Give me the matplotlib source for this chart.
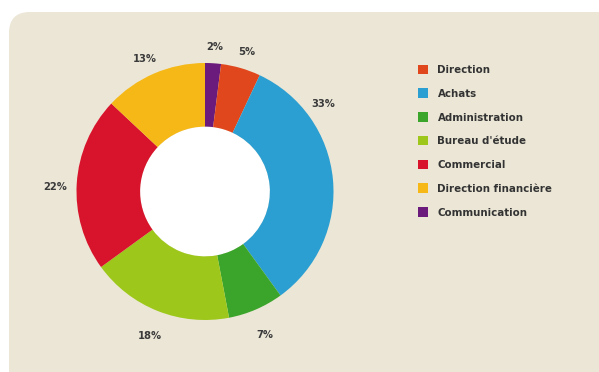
import matplotlib
matplotlib.use("Agg")
import numpy as np
import matplotlib.pyplot as plt
from matplotlib.patches import FancyBboxPatch, Circle

categories = ["Communication", "Direction", "Achats", "Administration", "Bureau d'étude",
              "Commercial", "Direction financière"]
values = [2, 5, 33, 7, 18, 22, 13]
colors = ["#6b1b7b", "#e0471d", "#2b9fd1", "#3ba52b", "#9dc81b", "#d8142c", "#f5b816"]
pct_labels = ["2%", "5%", "33%", "7%", "18%", "22%", "13%"]
legend_order = ["Direction", "Achats", "Administration", "Bureau d'étude",
                "Commercial", "Direction financière", "Communication"]

W, H = 599, 372
fig = plt.figure(figsize=(W / 100, H / 100), dpi=100, facecolor="white")

bg = FancyBboxPatch((9 / W, -0.05), (W - 9) / W + 0.05, (H - 12) / H + 0.05,
                    boxstyle="round,pad=0,rounding_size=0.035",
                    transform=fig.transFigure, facecolor="#ebe6d6",
                    edgecolor="none", zorder=0, mutation_aspect=W / H)
fig.patches.append(bg)

cx, cy, r = 205, 191.5, 128.5
half = 1.4 * r
ax = fig.add_axes([(cx - half) / W, (H - cy - half) / H, 2 * half / W, 2 * half / H])
ax.set_zorder(2)
ax.patch.set_visible(False)

hole = 0.505
wedges, texts = ax.pie(values, colors=colors, startangle=90, counterclock=False,
                       radius=1.0, labels=pct_labels, labeldistance=1.17,
                       wedgeprops=dict(width=1 - hole, edgecolor="none"),
                       textprops=dict(fontsize=8, color="#3a3a3a", fontweight="bold",
                                      fontstretch="condensed"))
# the 33% label sits higher up on the ring in the original
ang = np.deg2rad(38)
texts[2].set_position((1.17 * np.cos(ang), 1.17 * np.sin(ang)))
for t in texts:
    t.set_horizontalalignment("center")
    t.set_verticalalignment("center")
    x, y = t.get_position()
    t.set_position((x, y - 0.04))

ax.add_patch(Circle((0, 0), hole, facecolor="white", edgecolor="none", zorder=0.5))

ax.set_xlim(-1.4, 1.4)
ax.set_ylim(-1.4, 1.4)
ax.set_aspect("equal")
ax.axis("off")

handles = [wedges[categories.index(c)] for c in legend_order]
leg = fig.legend(handles, legend_order, loc="upper left",
                 bbox_to_anchor=(413 / W, 1 - 60 / H), frameon=False,
                 handlelength=0.9, handleheight=0.9, handletextpad=0.85,
                 labelspacing=1.15, borderaxespad=0,
                 prop=dict(size=8.2, weight="bold", stretch="condensed"),
                 labelcolor="#333333")
leg.set_zorder(3)

fig.savefig("out.png", dpi=100, facecolor="white")
